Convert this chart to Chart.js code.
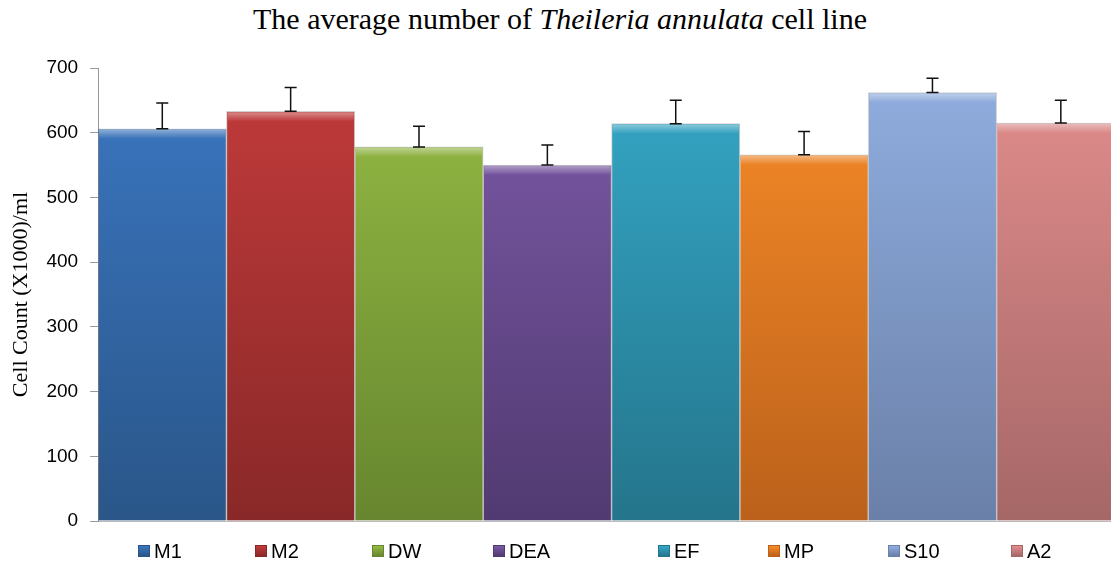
<!DOCTYPE html>
<html>
<head>
<meta charset="utf-8">
<script src="https://cdn.jsdelivr.net/npm/chart.js@4.4.1/dist/chart.umd.min.js"></script>
<style>
  html, body { margin: 0; padding: 0; background: #fff; overflow: hidden; }
  #wrap { position: relative; width: 1125px; height: 564px; }
  #title {
    position: absolute; top: 2px; left: 0; width: 1120px; text-align: center;
    font-family: "Liberation Serif", "Times New Roman", serif; font-size: 30px; color: #000;
  }
  canvas { position: absolute; top: 0; left: 0; }
  #legend { position: absolute; left: 0; top: 539px; width: 1125px; height: 24px; }
  .item {
    position: absolute; top: 0; display: flex; align-items: center; height: 24px;
    font-family: "Liberation Sans", Arial, sans-serif; font-size: 20px; color: #000;
  }
  .box { width: 12px; height: 12px; margin-right: 4px; box-sizing: border-box; }
</style>
</head>
<body>
<div id="wrap">
  <div id="title">The average number of <i>Theileria annulata</i> cell line</div>
  <canvas id="c" width="1125" height="564"></canvas>
  <div id="legend"></div>
</div>
<script>
// categorías (líneas celulares)
const labels = ["M1", "M2", "DW", "DEA", "EF", "MP", "S10", "A2"];
// promedio de células (x1000)/ml
const means = [606, 633, 578, 550, 614, 566, 662, 615];
// error (solo hacia arriba)
const errors = [40, 37, 32, 31, 36, 36, 22, 35];
// ticks del eje Y
const yTicks = [0, 100, 200, 300, 400, 500, 600, 700];

// colores de cada barra: claro arriba, oscuro abajo
const topColors = ["#3b77c2", "#c33b3b", "#95bb44", "#7c5aa8", "#35a8c8", "#f88c28", "#90aee0", "#e28e8d"];
const botColors = ["#2a5689", "#892828", "#67862f", "#513a71", "#24758b", "#bb611b", "#6a80a8", "#a66767"];

// posición horizontal de cada entrada de la leyenda (como en la imagen)
const legendX = [138, 255, 372, 493, 658, 768, 888, 1011];

// armo la leyenda en HTML
const legend = document.getElementById("legend");
labels.forEach((l, i) => {
  const it = document.createElement("div");
  it.className = "item";
  it.style.left = legendX[i] + "px";
  it.innerHTML = `<span class="box" style="background:linear-gradient(${topColors[i]},${botColors[i]});border:1px solid ${botColors[i]}"></span>${l}`;
  legend.appendChild(it);
});

// gradiente vertical según el área del gráfico
function barGradient(ctx) {
  const chart = ctx.chart;
  const area = chart.chartArea;
  if (!area) return topColors[ctx.dataIndex];
  const i = ctx.dataIndex;
  const g = chart.ctx.createLinearGradient(0, area.top, 0, area.bottom);
  g.addColorStop(0, topColors[i]);
  g.addColorStop(1, botColors[i]);
  return g;
}

// brillo arriba de cada barra (efecto biselado) y barras de error
const errorBars = {
  id: "errorBars",
  afterDatasetsDraw(chart) {
    const meta = chart.getDatasetMeta(0);
    const y = chart.scales.y;
    const c = chart.ctx;
    c.save();
    meta.data.forEach((bar) => {
      const w = bar.width;
      const g = c.createLinearGradient(0, bar.y, 0, bar.y + 10);
      g.addColorStop(0, "rgba(255,255,255,0.45)");
      g.addColorStop(1, "rgba(255,255,255,0)");
      c.fillStyle = g;
      c.fillRect(bar.x - w / 2 + 1, bar.y + 1, w - 2, 10);
    });
    c.strokeStyle = "#111";
    c.lineWidth = 1.5;
    meta.data.forEach((bar, i) => {
      const yv = y.getPixelForValue(means[i]);
      const yt = y.getPixelForValue(means[i] + errors[i]);
      c.beginPath();
      c.moveTo(bar.x, yv); c.lineTo(bar.x, yt);
      c.moveTo(bar.x - 6, yt); c.lineTo(bar.x + 6, yt);
      c.moveTo(bar.x - 6, yv); c.lineTo(bar.x + 6, yv);
      c.stroke();
    });
    c.restore();
  }
};

new Chart(document.getElementById("c"), {
  type: "bar",
  data: {
    labels,
    datasets: [{
      data: means,
      backgroundColor: barGradient,
      borderColor: "rgba(0,0,0,0.18)",
      borderWidth: 1,
      categoryPercentage: 1,
      barPercentage: 1,
    }],
  },
  options: {
    responsive: false,
    animation: false,
    layout: { padding: { top: 68, right: 0, left: 8, bottom: 35 } },
    plugins: {
      title: { display: false },
      tooltip: { enabled: false },
      legend: { display: false },
    },
    scales: {
      x: {
        ticks: { display: false },
        grid: { display: false },
        border: { display: true, color: "#bbb" },
      },
      y: {
        min: 0,
        max: 700,
        afterBuildTicks: (s) => { s.ticks = yTicks.map((v) => ({ value: v })); },
        ticks: {
          color: "#000",
          padding: 12,
          font: { family: "'Liberation Sans', Arial, sans-serif", size: 19 },
        },
        grid: { drawOnChartArea: false, drawTicks: true, tickLength: 8, color: "#999" },
        border: { display: true, color: "#999" },
        title: {
          display: true,
          text: "Cell Count (X1000)/ml",
          color: "#000",
          font: { family: "'Liberation Serif', 'Times New Roman', serif", size: 22 },
          padding: { top: 0, bottom: 0 },
        },
      },
    },
  },
  plugins: [errorBars],
});
</script>
</body>
</html>
